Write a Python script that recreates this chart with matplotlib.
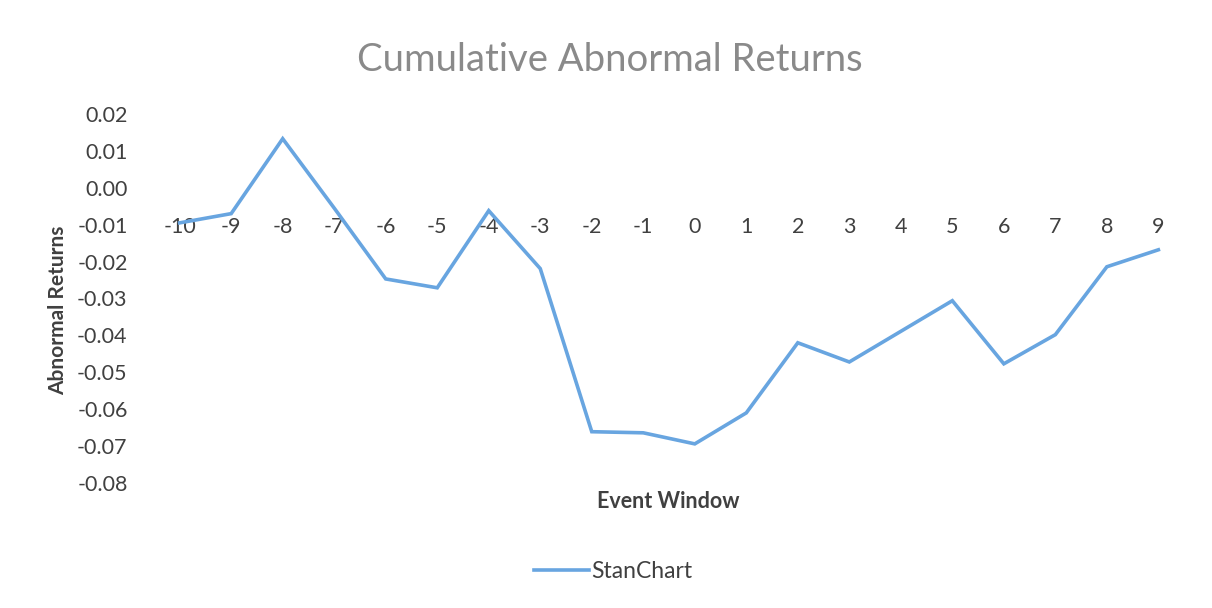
import matplotlib
matplotlib.use("Agg")
import matplotlib.pyplot as plt
from matplotlib.lines import Line2D

plt.rcParams['font.family'] = ['Lato', 'DejaVu Sans']

event_days = [-10, -9, -8, -7, -6, -5, -4, -3, -2, -1, 0, 1, 2, 3, 4, 5, 6, 7, 8, 9]
stanchart_car = [-0.0095, -0.0070, 0.0133, -0.0055, -0.0247, -0.0271, -0.0062, -0.0219,
                 -0.0661, -0.0664, -0.0694, -0.0610, -0.0420, -0.0472, -0.0389, -0.0306,
                 -0.0477, -0.0398, -0.0214, -0.0168]
y_ticks = [0.02, 0.01, 0.00, -0.01, -0.02, -0.03, -0.04, -0.05, -0.06, -0.07, -0.08]

line_color = '#68A5E0'
text_color = '#404040'

fig = plt.figure(figsize=(12.12, 6.08), dpi=100)
ax = fig.add_axes([0.127, 0.2056, 0.85, 0.6069])

xpos = list(range(len(event_days)))
ax.plot(xpos, stanchart_car, color=line_color, lw=2.6, solid_joinstyle='miter')

ax.set_xlim(-0.5, len(event_days) - 0.5)
ax.set_ylim(-0.08, 0.02)
ax.set_yticks(y_ticks)
ax.set_yticklabels([f"{v:.2f}" for v in y_ticks])
ax.set_xticks(xpos)
ax.set_xticklabels([str(d) for d in event_days])

for s in ['top', 'right', 'left']:
    ax.spines[s].set_visible(False)
ax.spines['bottom'].set_position(('data', 0))
ax.spines['bottom'].set_color('none')

ax.tick_params(axis='y', length=0, pad=19, labelsize=15.5, labelcolor=text_color)
ax.tick_params(axis='x', length=0, pad=21, labelsize=15.5, labelcolor=text_color)

fig.text(0.503, 0.902, 'Cumulative Abnormal Returns', ha='center', va='center',
         fontsize=27.5, color='#8a8a8a', fontweight='normal')
fig.text(0.048, 0.49, 'Abnormal Returns', rotation=90, ha='center', va='center',
         fontsize=15, fontweight='bold', color=text_color)
fig.text(0.551, 0.175, 'Event Window', ha='center', va='center',
         fontsize=15.5, fontweight='bold', color=text_color)

handle = Line2D([0], [0], color=line_color, lw=2.6)
fig.legend([handle], ['StanChart'], loc='center', bbox_to_anchor=(0.506, 0.06),
           frameon=False, fontsize=16.5, handlelength=2.4, handletextpad=0.1,
           labelcolor=text_color)

fig.savefig('out.png', dpi=100, facecolor='white')
